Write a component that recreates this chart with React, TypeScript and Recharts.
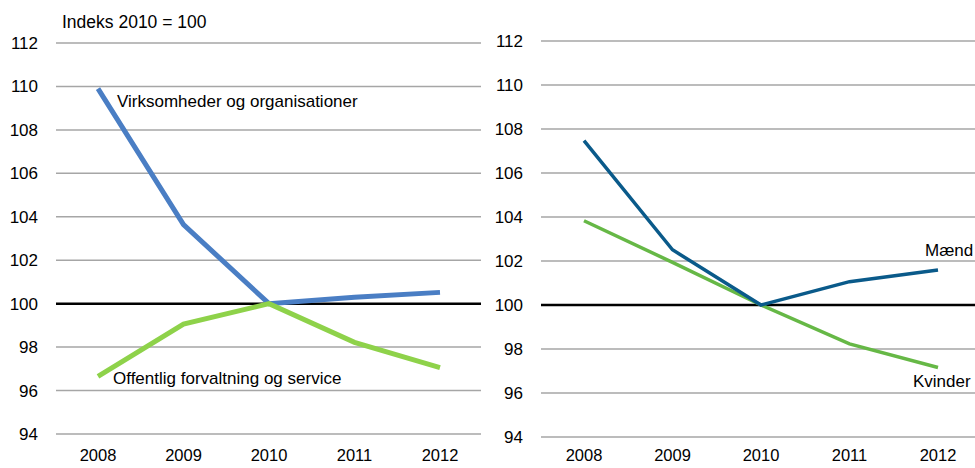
import { LineChart, Line, XAxis, YAxis, CartesianGrid, ReferenceLine, LabelList } from 'recharts';

const years = ['2008', '2009', '2010', '2011', '2012'];
const virksomheder = [109.9, 103.64, 100, 100.29, 100.52];
const offentlig = [96.65, 99.06, 100, 98.22, 97.06];
const maend = [107.47, 102.51, 100, 101.06, 101.59];
const kvinder = [103.83, 101.94, 100, 98.23, 97.16];
const yTicks = [94, 96, 98, 100, 102, 104, 106, 108, 110, 112];

const leftData = years.map((y, i) => ({ year: y, virk: virksomheder[i], off: offentlig[i] }));
const rightData = years.map((y, i) => ({ year: y, maend: maend[i], kvinder: kvinder[i] }));

const FONT = '"Liberation Sans", Arial, sans-serif';
const tickStyle = { fontSize: 17, fill: '#000', fontFamily: FONT };
const xTickStyle = { fontSize: 16.5, fill: '#000', fontFamily: FONT };

// label drawn next to one point of a series
function pointLabel(text: string, idx: number, dx: number, dy: number) {
   return (props: any) => {
      if (props.index !== idx) return null;
      return (
         <text x={props.x + dx} y={props.y + dy} fontSize={17} fontFamily={FONT} fill="#000" dominantBaseline="central">
            {text}
         </text>
      );
   };
}

export default function App() {
   return (
      <div style={{ position: 'absolute', left: 0, top: 0, width: 975, height: 468, background: '#fff' }}>
         <div style={{ position: 'absolute', left: 62, top: 10, fontSize: 17.5, fontFamily: FONT, lineHeight: '24px' }}>
            Indeks 2010 = 100
         </div>
         <div style={{ position: 'absolute', left: 0, top: 0 }}>
            <LineChart width={487} height={468} data={leftData} margin={{ top: 43, right: 6, bottom: 4, left: 0 }}>
               <CartesianGrid vertical={false} stroke="#a6a6a6" strokeWidth={1.5} />
               <XAxis dataKey="year" axisLine={false} tickLine={false} tickSize={0} tickMargin={15} height={30}
                  padding={{ left: 42, right: 41 }} tick={xTickStyle} interval={0} />
               <YAxis domain={[94, 112]} ticks={yTicks} axisLine={false} tickLine={false} tickSize={0} tickMargin={18}
                  width={56} tick={tickStyle} interval={0} />
               <ReferenceLine y={100} stroke="#000" strokeWidth={2.5} />
               <Line dataKey="virk" stroke="#4a7ec4" strokeWidth={5} dot={false} isAnimationActive={false}>
                  <LabelList content={pointLabel('Virksomheder og organisationer', 0, 19, 13)} />
               </Line>
               <Line dataKey="off" stroke="#8ed24a" strokeWidth={5} dot={false} isAnimationActive={false}>
                  <LabelList content={pointLabel('Offentlig forvaltning og service', 0, 15, 2)} />
               </Line>
            </LineChart>
         </div>
         <div style={{ position: 'absolute', left: 487, top: 0 }}>
            <LineChart width={488} height={468} data={rightData} margin={{ top: 41, right: 0, bottom: 1, left: 0 }}>
               <CartesianGrid vertical={false} stroke="#a6a6a6" strokeWidth={1.5} />
               <XAxis dataKey="year" axisLine={false} tickLine={false} tickSize={0} tickMargin={12} height={30}
                  padding={{ left: 43, right: 37 }} tick={xTickStyle} interval={0} />
               <YAxis domain={[94, 112]} ticks={yTicks} axisLine={false} tickLine={false} tickSize={0} tickMargin={18}
                  width={54} tick={tickStyle} interval={0} />
               <ReferenceLine y={100} stroke="#000" strokeWidth={2.5} />
               <Line dataKey="kvinder" stroke="#66b846" strokeWidth={3.5} dot={false} isAnimationActive={false}>
                  <LabelList content={pointLabel('Kvinder', 4, -25, 14)} />
               </Line>
               <Line dataKey="maend" stroke="#0a5a8a" strokeWidth={3.5} dot={false} isAnimationActive={false}>
                  <LabelList content={pointLabel('Mænd', 4, -13, -20)} />
               </Line>
            </LineChart>
         </div>
      </div>
   );
}
